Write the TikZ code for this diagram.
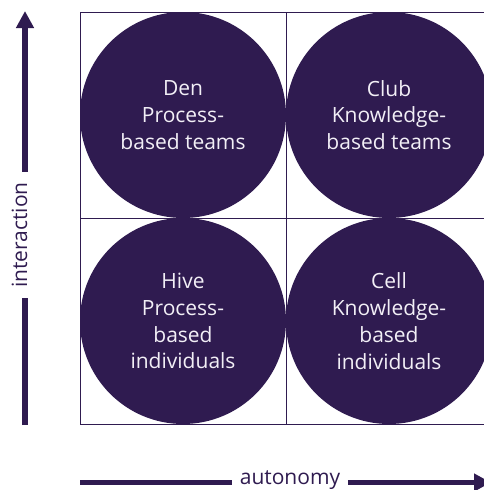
\documentclass[tikz,border=0pt]{standalone}
\usepackage{fontspec}
\setmainfont{Open Sans}
\usetikzlibrary{arrows.meta}
\definecolor{deep}{HTML}{2F1B50}
\definecolor{txt}{HTML}{F2EFF6}
\tikzset{
  gridline/.style={draw=deep, line width=0.9pt},
  quad/.style={circle, fill=deep, minimum size=206pt, inner sep=0pt, text=txt, align=center,
    font=\fontsize{21}{26.8}\selectfont},
  axislabel/.style={text=deep, font=\fontsize{21}{25}\selectfont, inner ysep=0pt},
  axisbar/.style={draw=deep, line width=5.8pt},
  axisarrow/.style={axisbar, -{Triangle[width=17pt,length=17pt]}}
}
\begin{document}
\begin{tikzpicture}[x=1pt,y=-1pt]
\useasboundingbox (0,0) rectangle (483,490);
% grid
\draw[gridline] (80,12) rectangle (492,424);
\draw[gridline] (286,12) -- (286,424);
\draw[gridline] (80,218) -- (492,218);
% circles
\node[quad] (den)  at (183,115) {Den\\Process-\\based teams};
\node[quad] (club) at (389,115) {Club\\Knowledge-\\based teams};
\node[quad] (hive) at (183,321) {Hive\\Process-\\based\\individuals};
\node[quad] (cell) at (389,321) {Cell\\Knowledge-\\based\\individuals};
% vertical axis
\coordinate (ybot) at (25,425);
\coordinate (ytop) at (25,11);
\node[axislabel, rotate=90, inner xsep=10.5pt] (ylab) at (19.5,235) {interaction};
\draw[axisbar] (ybot) -- (ybot |- ylab.west);
\draw[axisarrow] (ytop |- ylab.east) -- (ytop);
% horizontal axis
\coordinate (xl) at (80,482.5);
\coordinate (xr) at (491,482.5);
\node[axislabel, anchor=base, inner xsep=7.5pt] (xlab) at (290,484) {autonomy};
\draw[axisbar] (xl) -- (xl -| xlab.west);
\draw[axisarrow] (xl -| xlab.east) -- (xr);
\end{tikzpicture}
\end{document}
